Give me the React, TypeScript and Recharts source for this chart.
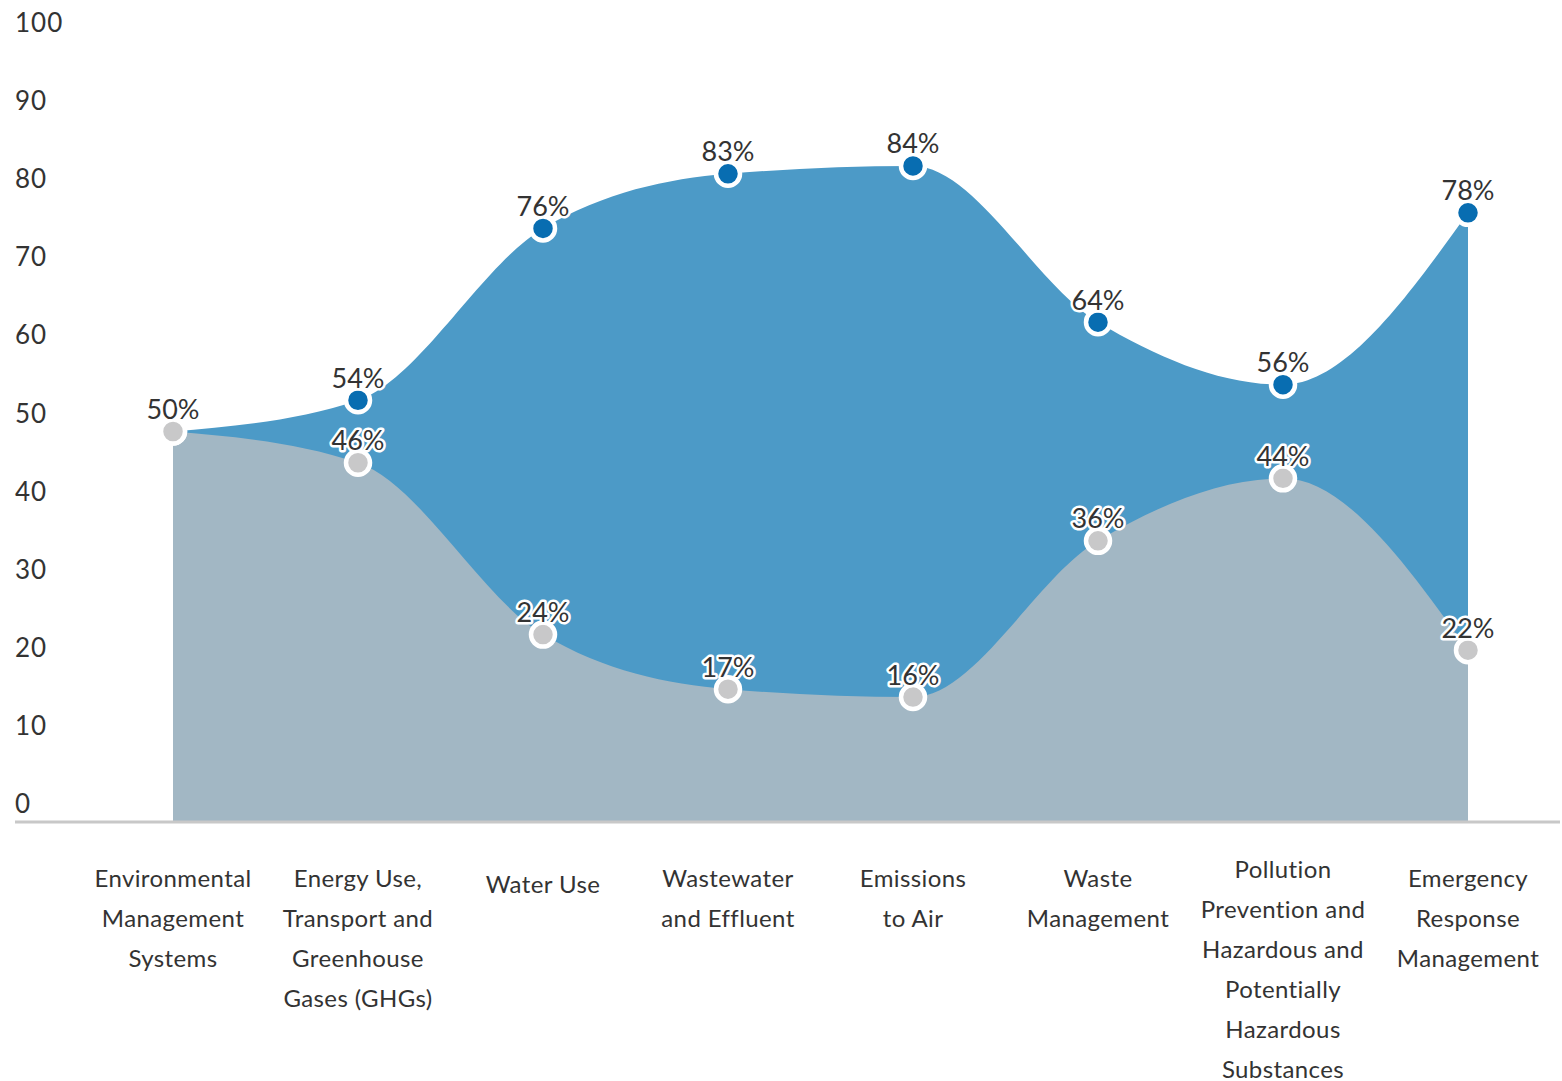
import { AreaChart, Area, XAxis, YAxis, LabelList } from "recharts";

// tick label lines, as wrapped in the reference
const categoryLines: string[][] = [
  ["Environmental", "Management", "Systems"],
  ["Energy Use,", "Transport and", "Greenhouse", "Gases (GHGs)"],
  ["Water Use"],
  ["Wastewater", "and Effluent"],
  ["Emissions", "to Air"],
  ["Waste", "Management"],
  ["Pollution", "Prevention and", "Hazardous and", "Potentially", "Hazardous", "Substances"],
  ["Emergency", "Response", "Management"],
];
const categories = categoryLines.map((l) => l.join(" "));
const upperValues = [50, 54, 76, 83, 84, 64, 56, 78];
const lowerValues = [50, 46, 24, 17, 16, 36, 44, 22];
const yTicks = [0, 10, 20, 30, 40, 50, 60, 70, 80, 90, 100];

const data = categories.map((name, i) => ({
  name,
  upper: upperValues[i],
  lower: lowerValues[i],
}));

const FONT = "Lato, 'Open Sans', sans-serif";
const TEXT = "#333333";

function YTick(props: any) {
  const { y, payload } = props;
  return (
    <text
      x={15}
      y={y - 19}
      fill={TEXT}
      fontSize={26}
      letterSpacing={1}
      fontFamily={FONT}
      dominantBaseline="central"
      textAnchor="start"
    >
      {payload.value}
    </text>
  );
}

function XTick(props: any) {
  const { x, index } = props;
  const lines = categoryLines[index] || [];
  const top = lines.length === 1 ? 883 : lines.length > 5 ? 868 : 877;
  return (
    <g>
      {lines.map((line, i) => (
        <text
          key={i}
          x={x}
          y={top + i * 40}
          fill={TEXT}
          fontSize={24}
          letterSpacing={0.4}
          fontFamily={FONT}
          textAnchor="middle"
          dominantBaseline="central"
        >
          {line}
        </text>
      ))}
    </g>
  );
}

function PctLabel(props: any) {
  const { x, y, value } = props;
  if (x == null || y == null) return null;
  return (
    <text
      x={x}
      y={y - 23}
      fill={TEXT}
      stroke="#ffffff"
      strokeWidth={5}
      strokeLinejoin="round"
      paintOrder="stroke"
      fontSize={27}
      fontFamily={FONT}
      textAnchor="middle"
      dominantBaseline="central"
    >
      {value}%
    </text>
  );
}

export default function App() {
  return (
    <div style={{ position: "absolute", left: 0, top: 0, width: 1562, height: 1081, background: "#fff" }}>
      <AreaChart width={1562} height={1081} data={data} margin={{ top: 41, right: 2, left: 0, bottom: 0 }}>
        <XAxis
          dataKey="name"
          padding={{ left: 158, right: 92 }}
          axisLine={{ stroke: "#c8c8c8", strokeWidth: 3 }}
          tickLine={false}
          tick={<XTick />}
          height={259}
          interval={0}
        />
        <YAxis
          domain={[0, 100]}
          ticks={yTicks}
          width={15}
          axisLine={false}
          tickLine={false}
          tick={<YTick />}
          interval={0}
        />
        <Area
          type="monotone"
          dataKey="upper"
          stroke="none"
          fill="#4c9ac7"
          fillOpacity={1}
          isAnimationActive={false}
          dot={{ r: 12, fill: "#086db1", stroke: "#ffffff", strokeWidth: 4.5, fillOpacity: 1 }}
          activeDot={false}
        >
          <LabelList dataKey="upper" content={<PctLabel />} />
        </Area>
        <Area
          type="monotone"
          dataKey="lower"
          stroke="none"
          fill="#a2b7c4"
          fillOpacity={1}
          isAnimationActive={false}
          dot={{ r: 12, fill: "#c8c8c9", stroke: "#ffffff", strokeWidth: 4.5, fillOpacity: 1 }}
          activeDot={false}
        >
          <LabelList dataKey="lower" content={<PctLabel />} />
        </Area>
      </AreaChart>
    </div>
  );
}
